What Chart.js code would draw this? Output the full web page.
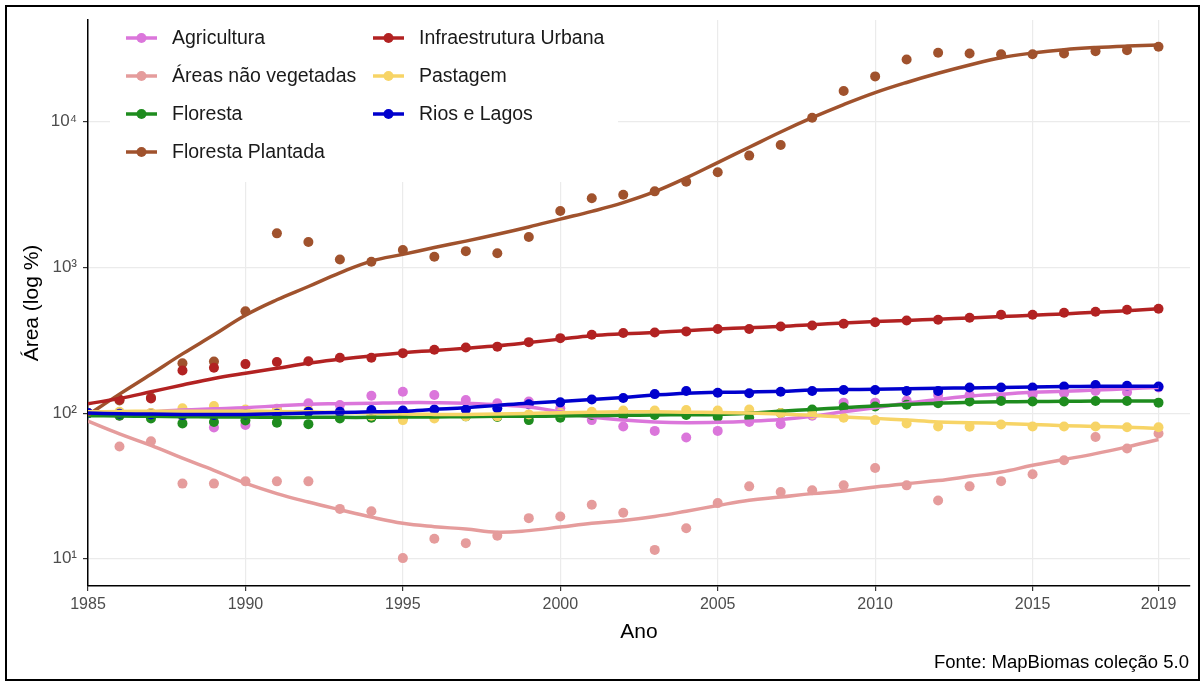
<!DOCTYPE html>
<html>
<head>
<meta charset="utf-8">
<script src="https://cdn.jsdelivr.net/npm/chart.js@4.4.1/dist/chart.umd.min.js"></script>
<style>
  html, body { margin: 0; padding: 0; background: #fff; }
  #wrap { position: relative; width: 1204px; height: 683px; }
  #frame { position: absolute; left: 5px; top: 5px; width: 1191px; height: 672px; border: 2px solid #000; pointer-events: none; }
  #fonte { position: absolute; right: 15px; top: 651px; font: 18.5px 'Liberation Sans', Arial, sans-serif; color: #000; }
</style>
</head>
<body>
<div id="wrap">
  <canvas id="chart" width="1204" height="683"></canvas>
  <div id="frame"></div>
  <div id="fonte">Fonte: MapBiomas coleção 5.0</div>
</div>
<script>
// Years and tick labels
const years = [1985, 1986, 1987, 1988, 1989, 1990, 1991, 1992, 1993, 1994,
  1995, 1996, 1997, 1998, 1999, 2000, 2001, 2002, 2003, 2004,
  2005, 2006, 2007, 2008, 2009, 2010, 2011, 2012, 2013, 2014,
  2015, 2016, 2017, 2018, 2019];
const xTicks = [1985, 1990, 1995, 2000, 2005, 2010, 2015, 2019];
const yTicks = [10, 100, 1000, 10000];
const yTickLabels = ['10¹', '10²', '10³', '10⁴'];

const seriesNames = ['Agricultura', 'Áreas não vegetadas', 'Floresta', 'Floresta Plantada',
  'Infraestrutura Urbana', 'Pastagem', 'Rios e Lagos'];
const seriesColors = ['#DB76DB', '#E59C9C', '#1E8C1E', '#A0522D', '#B22222', '#F7D466', '#0000CD'];

// observed values (area, % of 1985)
const agricultura = [100, 96, 100, 95, 79.6, 83, 107, 117, 113.5, 131.6,
  140, 133, 123, 117, 120, 108, 89.5, 81, 75.5, 68,
  75.5, 87, 84, 96, 118, 118, 122, 133, 133, 127,
  134, 137, 142, 139, 150];
const naoVegetadas = [100, 59, 64, 32.8, 32.8, 34, 34, 34, 22, 21.2,
  10.1, 13.7, 12.8, 14.4, 19.0, 19.5, 23.5, 20.7, 11.5, 16.2,
  24.1, 31.4, 28.7, 29.5, 31.9, 42, 31.9, 25.1, 31.4, 34.1,
  38.0, 47.4, 68.6, 57.1, 72.4];
const floresta = [100, 96, 92, 85, 87, 89, 86, 84, 92, 93,
  93, 95, 95, 94, 89.5, 93, 97, 96, 97, 97,
  94, 93, 100, 106, 109.5, 111, 114, 117, 120, 121,
  120, 120, 121, 121, 118];
const florestaPlantada = [100, 122, 128, 220, 226, 500, 1714, 1494, 1135, 1094,
  1316, 1186, 1294, 1250, 1618, 2443, 2990, 3155, 3330, 3873,
  4500, 5860, 6935, 10670, 16290, 20500, 26780, 29790, 29450, 29120,
  29100, 29450, 30560, 31050, 32730];
const infraestrutura = [100, 124, 126, 196, 205, 217, 224, 227, 240, 240,
  258, 272, 282, 286, 307, 327, 345, 355, 358, 364,
  378, 378, 393, 400, 411, 420, 432, 438, 452, 474,
  474, 489, 497, 513, 521];
const pastagem = [100, 102, 100, 108, 112, 106, 106, 104, 100, 96,
  89.5, 92, 95, 95, 98, 100, 102, 104, 104, 105,
  104, 106, 100, 98, 93, 89.5, 85, 81, 80.5, 83.5,
  81, 81, 81, 80, 80];
const riosLagos = [100, 99, 98, 97, 97, 98, 99, 102, 102, 105,
  104, 106, 106, 108, 115, 118.5, 124, 127, 135, 142,
  138, 137, 140, 142, 144, 144, 142, 142, 150, 150,
  150, 152, 156, 154, 152];

// smoothed curves
const agriculturaFit = [97, 99, 102, 105, 107, 109, 112, 115, 116, 117,
  118, 118, 117, 114, 110, 102, 94, 89.5, 87, 86,
  86.5, 88, 90.5, 95, 102, 109, 117, 124, 131, 135,
  139, 141, 144, 147, 150];
const naoVegetadasFit = [88, 72, 60, 49, 40.5, 33, 28, 24.5, 21.7, 19.3,
  17.5, 16.6, 16.0, 15.2, 15.6, 16.5, 17.5, 18.3, 19.5, 21.2,
  23.2, 25.2, 26.5, 28.0, 29.2, 31.1, 32.8, 34.4, 36.8, 39.4,
  43.8, 48, 52.7, 58.6, 65.8];
const florestaFit = [96, 95.5, 95, 94.5, 94, 94, 93.5, 93.5, 93.5, 93.5,
  94, 94, 94.5, 95, 95, 95.5, 96, 96.5, 97, 97.5,
  98, 100, 103, 106, 109, 112, 114.5, 117, 118.5, 119.5,
  120, 120.5, 121, 121, 121];
const florestaPlantadaFit = [97, 135, 185, 255, 345, 470, 600, 740, 918, 1105,
  1230, 1370, 1517, 1690, 1897, 2148, 2427, 2786, 3311, 4121,
  5248, 6683, 8511, 10666, 13122, 15849, 18621, 21528, 24547, 27542,
  29648, 31261, 32359, 33113, 33651];
const infraestruturaFit = [116, 126, 140, 156, 173, 188, 203, 220, 234, 247,
  260, 269, 279, 290, 305, 322, 340, 350, 358, 368,
  378, 386, 393, 404, 416, 425, 433, 441, 450, 460,
  470, 480, 492, 505, 520];
const pastagemFit = [102, 102.5, 103, 103, 103, 103, 102.5, 102, 101, 100,
  98.5, 98, 98, 98.5, 99.5, 100.5, 101.5, 102, 102, 101.5,
  101, 100, 98.5, 96.5, 94, 92, 89.5, 87, 86, 85,
  83.5, 82, 81, 80, 78.5];
const riosLagosFit = [100, 99, 98.5, 98, 98, 98, 99, 100, 101, 102,
  103, 106, 109, 113, 117, 120, 124, 128, 133, 137,
  139, 139.5, 141, 144, 145, 146, 147, 148, 149, 150,
  151, 152, 153, 153, 153];

const seriesPoints = [agricultura, naoVegetadas, floresta, florestaPlantada, infraestrutura, pastagem, riosLagos];
const seriesFits = [agriculturaFit, naoVegetadasFit, florestaFit, florestaPlantadaFit, infraestruturaFit, pastagemFit, riosLagosFit];

const family = "'Liberation Sans', Arial, sans-serif";
Chart.defaults.font.family = family;

const toXY = arr => years.map((yr, i) => ({ x: yr, y: arr[i] }));

const datasets = [];
seriesNames.forEach((name, i) => {
  datasets.push({
    label: name,
    data: toXY(seriesPoints[i]),
    showLine: false,
    pointRadius: 5,
    pointBorderWidth: 0,
    pointBackgroundColor: seriesColors[i],
    borderColor: seriesColors[i],
    order: 26 - i
  });
  datasets.push({
    label: name + ' (ajuste)',
    data: toXY(seriesFits[i]),
    borderColor: seriesColors[i],
    borderWidth: 3.5,
    pointRadius: 0,
    tension: 0.4,
    fill: false,
    order: 6 - i
  });
});

// legend drawn inside the panel, two columns like the original
const legendInside = {
  id: 'legendInside',
  afterDatasetsDraw(chart) {
    const ctx = chart.ctx;
    ctx.save();
    ctx.fillStyle = '#fff';
    ctx.fillRect(110, 20, 508, 162);
    ctx.font = '19.5px ' + family;
    ctx.textBaseline = 'middle';
    seriesNames.forEach((name, i) => {
      const col = i < 4 ? 0 : 1;
      const row = i < 4 ? i : i - 4;
      const x = 126 + col * 247;
      const y = 38 + row * 38;
      ctx.strokeStyle = seriesColors[i];
      ctx.lineWidth = 3.5;
      ctx.beginPath();
      ctx.moveTo(x, y);
      ctx.lineTo(x + 31, y);
      ctx.stroke();
      ctx.fillStyle = seriesColors[i];
      ctx.beginPath();
      ctx.arc(x + 15.5, y, 5, 0, Math.PI * 2);
      ctx.fill();
      ctx.fillStyle = '#1a1a1a';
      ctx.fillText(name, x + 46, y + 1);
    });
    ctx.restore();
  }
};

new Chart(document.getElementById('chart').getContext('2d'), {
  type: 'line',
  data: { datasets },
  plugins: [legendInside],
  options: {
    responsive: false,
    animation: false,
    events: [],
    layout: { padding: { left: 10, right: 14, top: 20, bottom: 0 } },
    plugins: {
      legend: { display: false },
      tooltip: { enabled: false }
    },
    scales: {
      x: {
        type: 'linear',
        min: 1985,
        max: 2020,
        afterBuildTicks: s => { s.ticks = xTicks.map(v => ({ value: v })); },
        afterFit: s => { s.height = 97; },
        grid: { color: '#ebebeb', lineWidth: 1.2, tickColor: '#333', tickLength: 5 },
        border: { color: '#000', width: 1.5 },
        ticks: {
          color: '#4d4d4d',
          font: { size: 16 },
          padding: 4,
          autoSkip: false,
          maxRotation: 0,
          callback: v => String(v)
        },
        title: { display: true, text: 'Ano', color: '#000', font: { size: 21 }, padding: { top: 0, bottom: 38 } }
      },
      y: {
        type: 'logarithmic',
        min: 6.5,
        max: 50000,
        afterBuildTicks: s => { s.ticks = yTicks.map(v => ({ value: v })); },
        afterFit: s => { s.width = 78; },
        grid: { color: '#ebebeb', lineWidth: 1.2, tickColor: '#333', tickLength: 5 },
        border: { color: '#000', width: 1.5 },
        ticks: {
          color: '#4d4d4d',
          font: { size: 17 },
          padding: 6,
          autoSkip: false,
          callback: (v, i) => yTickLabels[i]
        },
        title: { display: true, text: 'Área (log %)', color: '#000', font: { size: 21 }, padding: { top: 10, bottom: 0 } }
      }
    }
  }
});
</script>
</body>
</html>
